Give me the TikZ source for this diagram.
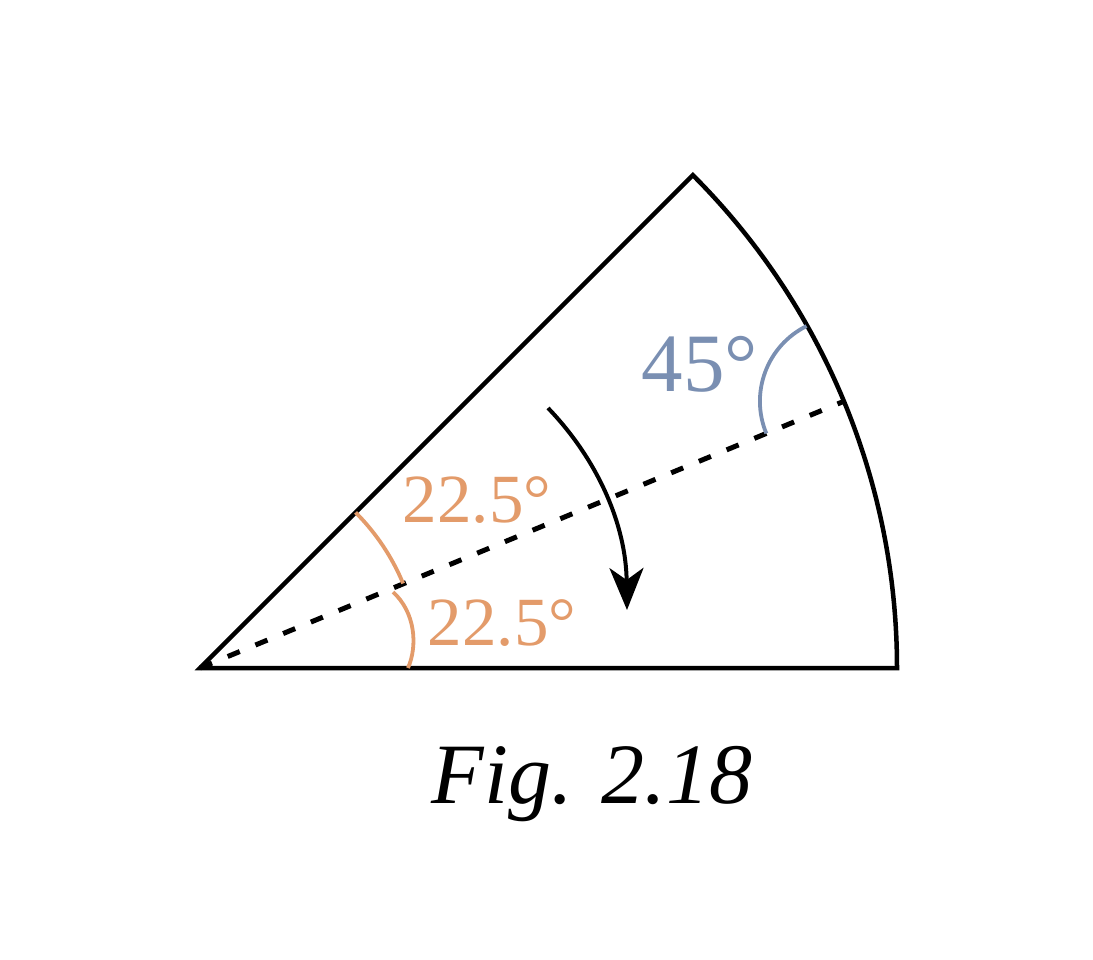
\documentclass[tikz,border=0pt]{standalone}
\usepackage{fontspec}
\setmainfont{Liberation Serif}
\usetikzlibrary{calc,arrows.meta}
\definecolor{angorange}{RGB}{227,155,106}
\definecolor{angblue}{RGB}{122,143,178}
\tikzset{
  edge/.style={line width=4.5pt, line join=miter},
  midline/.style={line width=5pt, dash pattern=on 13pt off 17pt},
  orangearc/.style={line width=3.8pt, draw=angorange},
  bluearc/.style={line width=3.8pt, draw=angblue},
  turn/.style={line width=4pt, -{Stealth[length=42pt,width=34pt,inset=12pt]}},
  orangelabel/.style={text=angorange, inner sep=0pt, font=\fontsize{69}{71}\selectfont},
  bluelabel/.style={text=angblue, inner sep=0pt, font=\fontsize{83}{85}\selectfont},
  caption/.style={inner sep=0pt, font=\fontsize{86}{88}\selectfont\itshape}
}
\begin{document}
\begin{tikzpicture}[x=1pt,y=-1pt]
\useasboundingbox (0,0) rectangle (1093,960);
\coordinate (O) at (200,668);
\coordinate (A) at (897,668);
\coordinate (M) at ($(O)+(-22.5:697)$);
% sector
\draw[edge] (O) -- (A) arc[start angle=0, end angle=-45, radius=697] -- cycle;
% bisector
\draw[midline] (O) -- (M);
% orange angle marks
\draw[orangearc] ($(O)+(-45:220)$) arc[start angle=-45, end angle=-22.6, radius=220];
\coordinate (L1) at (408,668);
\coordinate (L2) at (393,592);
\draw[orangearc] (L1) .. controls (418,645) and (415,612) .. (L2);
% blue angle mark
\draw[bluearc] ($(M)+(-202.5:84)$) arc[start angle=-202.5, end angle=-116.5, radius=84];
% rotation arrow
\coordinate (R1) at (548,408);
\coordinate (R2) at (627,610);
\draw[turn] (R1) .. controls (598,460) and (626,525) .. (R2);
% labels
\node[bluelabel] (t45) at (700,364) {45°};
\node[orangelabel] (tup) at (477,500) {22.5°};
\node[orangelabel] (tlow) at (502,623) {22.5°};
\node[caption, anchor=base] (cap) at (592,803) {Fig. 2.18};
\end{tikzpicture}
\end{document}
